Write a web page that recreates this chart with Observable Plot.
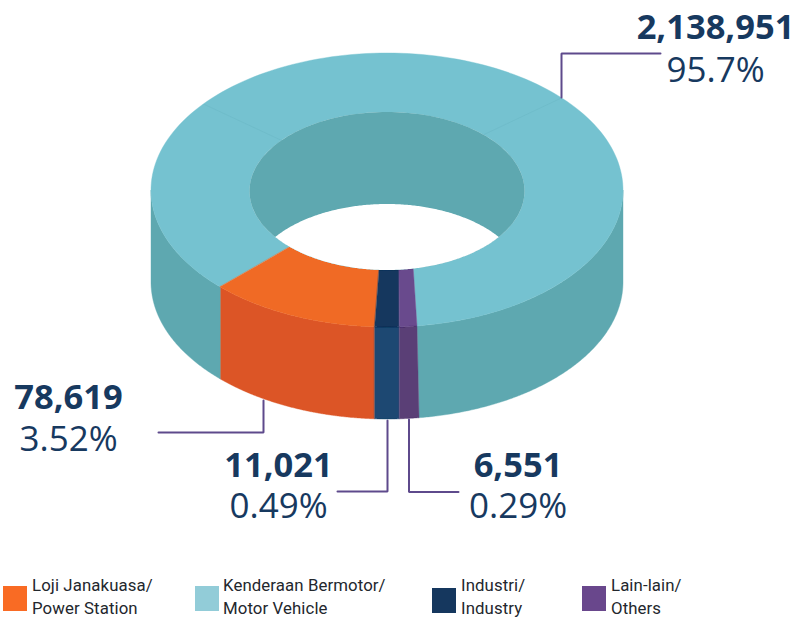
<!DOCTYPE html>
<html>
<head>
<meta charset="utf-8">
<script src="https://cdn.jsdelivr.net/npm/d3@7"></script>
<script src="https://cdn.jsdelivr.net/npm/@observablehq/plot@0.6"></script>
<style>
  html, body { margin: 0; padding: 0; background: #fff; overflow: hidden; }
  #page { position: relative; width: 795px; height: 618px; }
  #chart svg { display: block; background: transparent; }
  .lg { position: absolute; top: 574px; font: 400 16.8px/23px Roboto, sans-serif; letter-spacing: 0.1px; color: #23272d; white-space: nowrap; }
  .sw { position: absolute; width: 24px; height: 25px; }
</style>
</head>
<body>
<div id="page"><div id="chart"></div><div id="legend"></div></div>
<script>
// ---- data ----
const categories = ["Loji Janakuasa/\nPower Station", "Kenderaan Bermotor/\nMotor Vehicle", "Industri/\nIndustry", "Lain-lain/\nOthers"];
const totals = ["78,619", "2,138,951", "11,021", "6,551"];
const shares = ["3.52%", "95.7%", "0.49%", "0.29%"];
// drawn sweep of each slice on the ellipse, degrees clockwise from 3 o'clock
const sliceNames = ["motor", "power", "industry", "others"];
const outerStart = [82.7, 135, 93, 87];
const outerEnd   = [-225, 93, 87, 82.7];
const innerStart = [79, 135, 93.3, 85];
const innerEnd   = [-225, 93.3, 85, 79];
const floorStart = [82.2, 135, 93, 87];
const floorEnd   = [0, 93, 87, 82.2];
const seamOuter = [-42.5, -141];
const seamInner = [-45.8, -140];

const topColors  = {power: "#f06a25", industry: "#15375e", others: "#694a8d", motor: "#75c2d0"};
const wallColors = {power: "#dc5526", industry: "#1d4872", others: "#5a3f76", motor: "#5ea8b0"};
const legendColors = ["#f96b24", "#92ccd8", "#15375e", "#69478c"];

// ---- ring shape ----
const W = 795, H = 570;
const cx = 387, cy = 190, rxO = 236, ryO = 137, rxI = 137.5, ryI = 79, cyI = 191, depth = 92;
const rad = d => d * Math.PI / 180;
const ox = a => cx + rxO * Math.cos(rad(a));
const oy = a => cy + ryO * Math.sin(rad(a));
const ix = a => cx + rxI * Math.cos(rad(a));
const iy = a => cyI + ryI * Math.sin(rad(a));
const steps = d3.range(0, 1.0001, 1 / 180);
const lerp = (a, b, t) => a + (b - a) * t;

const ringTop = sliceNames.flatMap((s, i) => steps.map(t => {
  const a = lerp(outerStart[i], outerEnd[i], t), b = lerp(innerStart[i], innerEnd[i], t);
  return {s, x1: ox(a), y1: oy(a), x2: ix(b), y2: iy(b), fill: topColors[s]};
}));

// visible outer wall; the motor vehicle slice shows on both sides of the others
const wallSpans = [
  ...sliceNames.map((s, i) => ({s, k: s, a0: outerStart[i], a1: s === "motor" ? 0 : outerEnd[i], b0: floorStart[i], b1: floorEnd[i]})),
  {s: "motor", k: "motor2", a0: 135, a1: 180, b0: 135, b1: 180}
];
const walls = wallSpans.flatMap(w => steps.map(t => {
  const a = lerp(w.a0, w.a1, t), b = lerp(w.b0, w.b1, t);
  return {k: w.k, x1: ox(a), y1: oy(a), x2: ox(b), y2: oy(b) + depth, fill: wallColors[w.s]};
}));

const holeWall = d3.range(0, 361, 2).map(a => ({x1: ix(a), y1: iy(a), x2: cx, y2: cyI}));
const corner = Math.asin(depth / (2 * ryI)) * 180 / Math.PI;
const holeOpen = steps.map(t => {
  const a = lerp(corner, 180 - corner, t);
  return {x1: ix(a), y1: iy(a), x2: ix(a), y2: cyI + depth - ryI * Math.sin(rad(a))};
});
const seams = seamOuter.map((a, i) => ({x1: ox(a), y1: oy(a), x2: ix(seamInner[i]), y2: iy(seamInner[i])}));

// ---- annotation layout ----
const leaders = [
  {id: "motor",  pts: [[561, 97], [561, 53], [660, 53]]},
  {id: "power",  pts: [[263, 400], [263, 432], [158, 432]]},
  {id: "ind",    pts: [[387, 420], [387, 491], [337, 491]]},
  {id: "others", pts: [[408.5, 419], [408.5, 491.5], [458, 491.5]]}
].flatMap(l => l.pts.map(([x, y]) => ({id: l.id, x, y})));
const labelX = [68, 715, 278, 517.5];
const totalY = [409, 39, 477, 477];
const shareY = [451, 82, 518, 518];
const labels = totals.map((t, i) => ({t, s: shares[i], x: labelX[i], ty: totalY[i], sy: shareY[i]}));

const area = (data, opts) => Plot.area(data, {x1: "x1", y1: "y1", x2: "x2", y2: "y2", curve: "linear", ...opts});
const chart = Plot.plot({
  width: W, height: H, margin: 0,
  x: {domain: [0, W], range: [0, W], axis: null},
  y: {domain: [0, H], range: [0, H], axis: null},
  marks: [
    area(walls, {z: "k", fill: "fill", stroke: "fill", strokeWidth: 0.4}),
    area(ringTop, {z: "s", fill: "fill", stroke: "fill", strokeWidth: 0.4}),
    Plot.link(seams, {x1: "x1", y1: "y1", x2: "x2", y2: "y2", stroke: "#6cb8c6", strokeWidth: 0.6}),
    area(holeWall, {fill: "#5ea8b0"}),
    area(holeOpen, {fill: "#ffffff"}),
    Plot.line(leaders, {x: "x", y: "y", z: "id", stroke: "#5e4a8c", strokeWidth: 2, curve: "linear", strokeLinejoin: "miter"}),
    Plot.text(labels, {x: "x", y: "ty", text: "t", fill: "#17395f", fontSize: 34.5, fontWeight: 700, fontFamily: "Open Sans", textAnchor: "middle", lineAnchor: "bottom", dy: -1}),
    Plot.text(labels, {x: "x", y: "sy", text: "s", fill: "#17395f", fontSize: 35, fontWeight: 400, fontFamily: "Open Sans", textAnchor: "middle", lineAnchor: "bottom", dy: -1})
  ]
});
document.getElementById("chart").append(chart);

// ---- legend below the plot ----
const swatchX = [3, 195, 432, 582], swatchY = [586, 586, 588, 586], textX = [32, 223, 461, 611];
const legend = document.getElementById("legend");
categories.forEach((c, i) => {
  const sw = document.createElement("div");
  sw.className = "sw";
  sw.style.cssText = `left:${swatchX[i]}px;top:${swatchY[i]}px;background:${legendColors[i]}`;
  const tx = document.createElement("div");
  tx.className = "lg";
  tx.style.left = textX[i] + "px";
  tx.innerHTML = c.replace("\n", "<br>");
  legend.append(sw, tx);
});
</script>
</body>
</html>
